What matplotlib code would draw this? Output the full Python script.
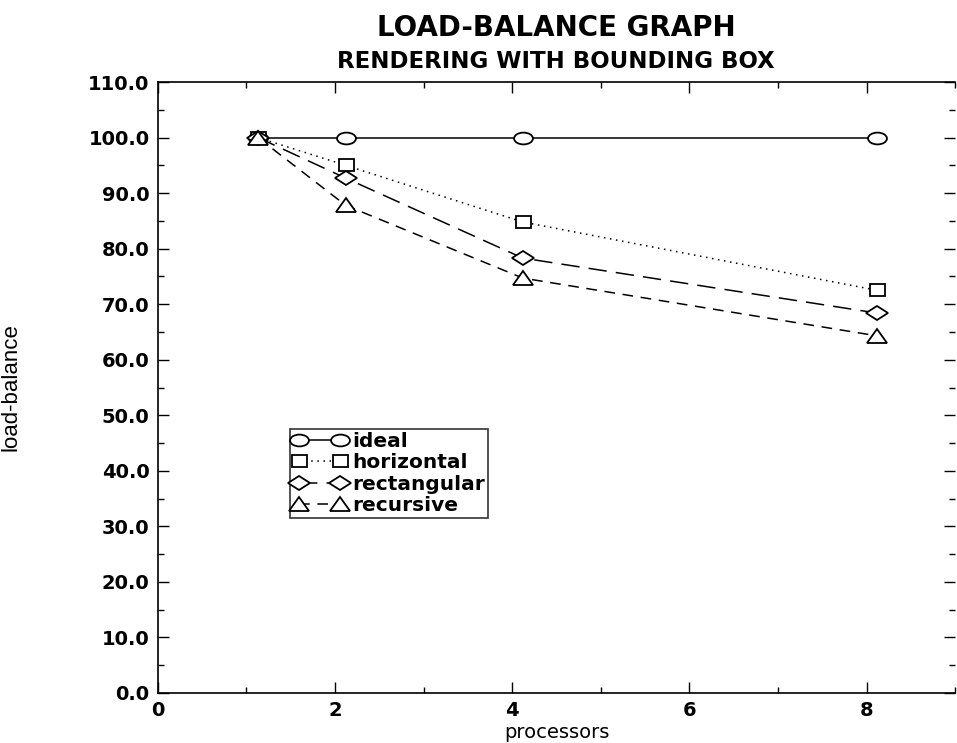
import matplotlib
matplotlib.use('Agg')
from matplotlib import pyplot as plt
from matplotlib.markers import MarkerStyle
from matplotlib.transforms import Affine2D
from matplotlib.ticker import MultipleLocator, FormatStrFormatter

# values
processors = [1.13, 2.12, 4.12, 8.12]
ideal = [100.0, 100.0, 100.0, 100.0]
horizontal = [100.0, 95.0, 84.8, 72.5]
rectangular = [100.0, 92.7, 78.3, 68.4]
recursive = [100.0, 87.8, 74.7, 64.3]

plt.rcParams['font.family'] = ['DejaVu Sans']

fig = plt.figure(figsize=(9.57, 7.43), dpi=100)
ax = fig.add_axes([0.165, 0.0673, 0.833, 0.8223])


def wide(m, sx=1.6, sy=1.0):
    return MarkerStyle(m, transform=Affine2D().scale(sx, sy))


kw = dict(color='black', lw=1.1, markerfacecolor='white', markeredgecolor='black',
          markeredgewidth=1.3)
ax.plot(processors, ideal, '-', marker=wide('o', 1.6, 1.0), markersize=8.5,
        label='ideal', **kw)
ax.plot(processors, horizontal, linestyle=(0, (1, 3)), marker=wide('s', 1.35, 1.0),
        markersize=8, label='horizontal', **kw)
ax.plot(processors, rectangular, linestyle=(0, (12, 6)), marker=wide('D', 1.55, 1.0),
        markersize=7, label='rectangular', **kw)
ax.plot(processors, recursive, linestyle=(0, (7, 5)), marker=wide('^', 1.4, 1.0),
        markersize=10, label='recursive', **kw)

ax.set_xlim(0, 9)
ax.set_ylim(0, 110)
ax.xaxis.set_major_locator(MultipleLocator(2))
ax.xaxis.set_minor_locator(MultipleLocator(1))
ax.yaxis.set_major_locator(MultipleLocator(10))
ax.yaxis.set_minor_locator(MultipleLocator(5))
ax.yaxis.set_major_formatter(FormatStrFormatter('%.1f'))
ax.tick_params(which='both', direction='in', top=True, right=True, width=1.0,
               labelsize=14)
ax.tick_params(which='major', length=8, pad=6)
ax.tick_params(which='minor', length=4)
for lab in ax.get_xticklabels() + ax.get_yticklabels():
    lab.set_fontweight('bold')
for s in ax.spines.values():
    s.set_linewidth(1.2)
ax.spines['right'].set_visible(False)

ax.set_xlabel('processors', fontsize=14, labelpad=2)
ax.set_ylabel('load-balance', fontsize=16, family=['Liberation Sans', 'DejaVu Sans'],
              labelpad=48)

fig.text(0.581, 0.962, 'LOAD-BALANCE GRAPH', ha='center', va='center',
         fontsize=20, fontweight='bold')
fig.text(0.581, 0.917, 'RENDERING WITH BOUNDING BOX', ha='center', va='center',
         fontsize=16.5, fontweight='bold')

leg = ax.legend(loc='upper left', bbox_to_anchor=(0.166, 0.432), numpoints=2,
                prop=dict(size=14.5, weight='bold'), frameon=True, fancybox=False,
                edgecolor='black', handlelength=2.6, handletextpad=0.35,
                borderpad=0.15, labelspacing=0.12, borderaxespad=0)
leg.get_frame().set_linewidth(1.2)

fig.savefig('out.png', dpi=100)
